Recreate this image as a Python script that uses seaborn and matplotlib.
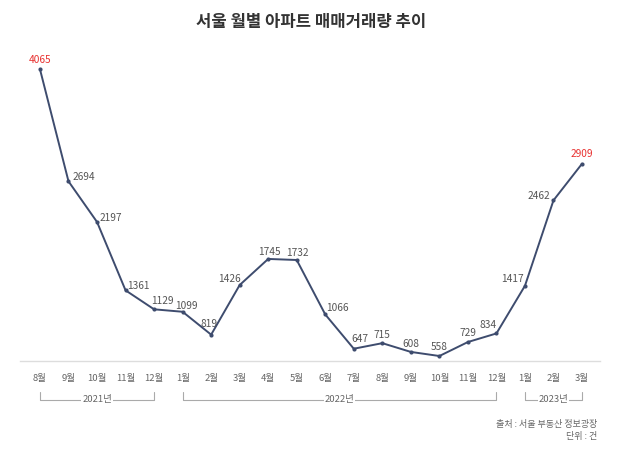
import matplotlib
matplotlib.use("Agg")
import matplotlib.pyplot as plt
import matplotlib.transforms as mtransforms
import seaborn as sns
import pandas as pd

sns.set_theme(style="white")
plt.rcParams['font.family'] = ['Liberation Sans Narrow', 'Noto Sans CJK KR', 'DejaVu Sans']

months = ['8월', '9월', '10월', '11월', '12월', '1월', '2월', '3월', '4월', '5월', '6월',
          '7월', '8월', '9월', '10월', '11월', '12월', '1월', '2월', '3월']
values = [4065, 2694, 2197, 1361, 1129, 1099, 819, 1426, 1745, 1732, 1066,
          647, 715, 608, 558, 729, 834, 1417, 2462, 2909]
years = ['2021년', '2022년', '2023년']
year_spans = [(0, 4), (5, 16), (17, 19)]
highlight = [0, 19]

# label offsets in pixels (dx, dy, ha)
offsets = [(0, 9, 'center'), (4, 4, 'left'), (3, 4, 'left'), (2, 4, 'left'),
           (-3, 8, 'left'), (4, 6, 'center'), (-2, 11, 'center'), (1, 6, 'right'),
           (1, 7, 'center'), (1, 7, 'center'), (1, 6, 'left'), (-2, 10, 'left'),
           (0, 8, 'center'), (0, 8, 'center'), (0, 9, 'center'), (0, 9, 'center'),
           (-8, 8, 'center'), (-1, 7, 'right'), (-3, 4, 'right'), (0, 10, 'center')]

df = pd.DataFrame({'idx': range(len(values)), 'value': values})

fig = plt.figure(figsize=(6.4, 4.53), dpi=100)
ax = fig.add_axes([20 / 640, 1 - 361 / 453, 580 / 640, 311 / 453])

line_color = '#3e4c6e'
sns.lineplot(data=df, x='idx', y='value', ax=ax, color=line_color, linewidth=1.4,
             marker='o', markersize=3, markeredgewidth=0)

ax.set_xlim(-0.70, 19.63)
ax.set_ylim(497, 4300)

for i, v in enumerate(values):
    dx, dy, ha = offsets[i]
    col = '#e8302f' if i in highlight else '#555555'
    ax.annotate(str(v), (i, v), xytext=(dx, dy), textcoords='offset pixels',
                ha=ha, va='center', fontsize=7.3, color=col)

for s in ['top', 'left', 'right']:
    ax.spines[s].set_visible(False)
ax.spines['bottom'].set_color('#dddddd')
ax.spines['bottom'].set_linewidth(1.0)
ax.set_xticks([])
ax.set_yticks([])
ax.set_xlabel('')
ax.set_ylabel('')

trans = mtransforms.blended_transform_factory(ax.transData, ax.transAxes)
for i, m in enumerate(months):
    ax.text(i, -0.055, m, transform=trans, ha='center', va='center',
            fontsize=6.8, color='#666666')

y_top = -0.0997
y_bot = -0.125
for (a, b), yr in zip(year_spans, years):
    ax.plot([a, a, b, b], [y_top, y_bot, y_bot, y_top], transform=trans,
            color='#aaaaaa', linewidth=0.8, clip_on=False)
    ax.text((a + b) / 2, y_bot, yr, transform=trans, ha='center', va='center',
            fontsize=6.8, color='#666666',
            bbox=dict(facecolor='white', edgecolor='none', pad=0.6))

fig.text(0.486, 1 - 22 / 453, '서울 월별 아파트 매매거래량 추이', ha='center', va='center',
         fontsize=12, fontweight='heavy', color='#333333',
         family=['Noto Sans CJK KR', 'DejaVu Sans'])

fig.text(597 / 640, 1 - 425 / 453, '출처 : 서울 부동산 정보광장', ha='right', va='center',
         fontsize=6.5, color='#666666')
fig.text(597 / 640, 1 - 436 / 453, '단위 : 건', ha='right', va='center',
         fontsize=6.5, color='#666666')

fig.savefig('out.png', dpi=100, facecolor='white')
